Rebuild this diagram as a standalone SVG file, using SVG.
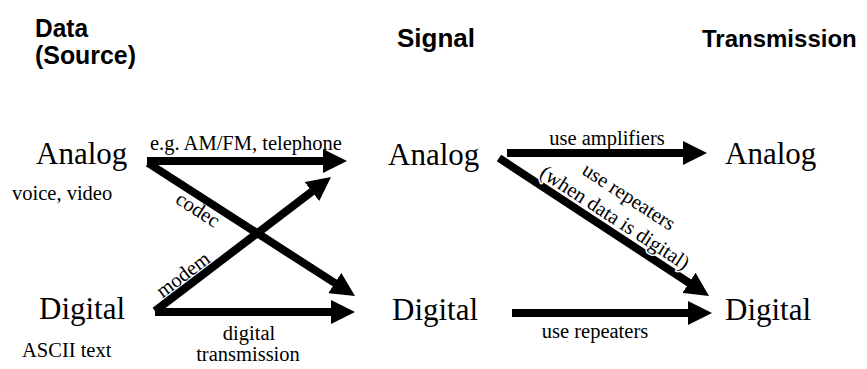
<svg xmlns="http://www.w3.org/2000/svg" width="867" height="369" viewBox="0 0 867 369">
<style>
.hdr{font-family:"Liberation Sans",Arial,sans-serif;font-weight:bold;font-size:26px;fill:#000}
.big{font-family:"Liberation Serif","Times New Roman",serif;font-size:31px;fill:#000}
.lbl{font-family:"Liberation Serif","Times New Roman",serif;font-size:20.5px;fill:#000}
.halo{stroke:#fff;stroke-width:3px;paint-order:stroke;stroke-linejoin:round}
.arr{stroke:#000;stroke-width:8;fill:none;marker-end:url(#head)}
</style>
<defs>
<marker id="head" viewBox="0 0 24 24" markerWidth="24" markerHeight="24" markerUnits="userSpaceOnUse" refX="12" refY="12" orient="auto">
<path d="M0,0 L24,12 L0,24 Z" fill="#000"/>
</marker>
</defs>
<rect width="867" height="369" fill="#fff"/>
<g id="headers">
<text class="hdr" x="35" y="37" textLength="53" lengthAdjust="spacingAndGlyphs">Data</text>
<text class="hdr" x="35" y="64" textLength="101" lengthAdjust="spacingAndGlyphs">(Source)</text>
<text class="hdr" x="397" y="47" textLength="78" lengthAdjust="spacingAndGlyphs">Signal</text>
<text class="hdr" x="702" y="47" style="font-size:24px">Transmission</text>
</g>
<g id="connectors">
<line class="arr" x1="147" y1="161" x2="335" y2="161"/>
<line class="arr" x1="148" y1="163" x2="344.9" y2="289.5"/>
<line class="arr" x1="155" y1="311" x2="321.5" y2="184.3"/>
<line class="arr" x1="155" y1="312" x2="343" y2="312"/>
<line class="arr" x1="507" y1="153" x2="695" y2="153"/>
<line class="arr" x1="499" y1="158" x2="699" y2="289.4"/>
<line class="arr" x1="512" y1="313" x2="700" y2="313"/>
<text class="lbl" x="150" y="150">e.g. AM/FM, telephone</text>
<text class="lbl" text-anchor="middle" transform="translate(197,211) rotate(33)" y="5">codec</text>
<text class="lbl" text-anchor="middle" transform="translate(184,276) rotate(-37)" y="5">modem</text>
<text class="lbl" x="249" y="340" text-anchor="middle">digital</text>
<text class="lbl" x="248" y="361" text-anchor="middle">transmission</text>
<text class="lbl" x="607" y="145" text-anchor="middle">use amplifiers</text>
<text class="lbl" text-anchor="middle" transform="translate(628,198) rotate(33)" y="5">use repeaters</text>
<text class="lbl halo" text-anchor="middle" transform="translate(614,219) rotate(33)" y="5">(when data is digital)</text>
<text class="lbl" x="595" y="338" text-anchor="middle">use repeaters</text>
</g>
<g id="data-analog">
<text class="big" x="36" y="164">Analog</text>
<text class="lbl" x="12" y="200">voice, video</text>
</g>
<g id="data-digital">
<text class="big" x="39" y="319">Digital</text>
<text class="lbl" x="22" y="357">ASCII text</text>
</g>
<g id="signal-analog">
<text class="big" x="388" y="165">Analog</text>
</g>
<g id="signal-digital">
<text class="big" x="392" y="320">Digital</text>
</g>
<g id="trans-analog">
<text class="big" x="725" y="164">Analog</text>
</g>
<g id="trans-digital">
<text class="big" x="725" y="320">Digital</text>
</g>
</svg>
